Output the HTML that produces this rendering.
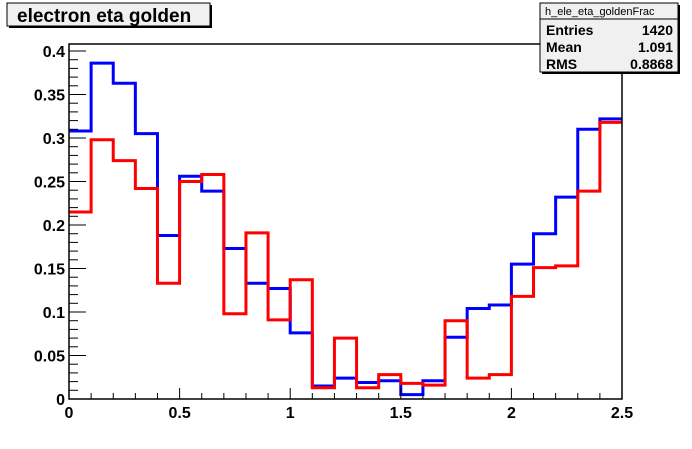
<!DOCTYPE html>
<html><head><meta charset="utf-8"><style>
body{margin:0;background:#fff;}
svg text{font-family:"Liberation Sans",Arial,sans-serif;font-weight:bold;}
</style></head><body>
<svg id="c" width="692" height="444" xmlns="http://www.w3.org/2000/svg">
<rect x="0" y="0" width="692" height="444" fill="#fff"/>
<g>
<rect x="9" y="5" width="203" height="23" fill="#000"/>
<rect x="7" y="3" width="203" height="23" fill="#f0f0f0" stroke="#000" stroke-width="1"/>
<text x="17" y="22" font-size="19" fill="#000">electron eta golden</text>
</g>
<g id="plot"></g>
<g>
<rect x="542" y="5" width="138" height="69" fill="#000"/>
<rect x="540" y="3" width="138" height="69" fill="#f0f0f0" stroke="#000" stroke-width="1"/>
<line x1="540" y1="19" x2="678" y2="19" stroke="#000"/>
<text x="545" y="15" font-size="11" font-weight="normal" style="font-weight:normal">h_ele_eta_goldenFrac</text>
<text x="546" y="35" font-size="14">Entries</text>
<text x="673" y="35" font-size="14" text-anchor="end">1420</text>
<text x="546" y="52" font-size="14">Mean</text>
<text x="673" y="52" font-size="14" text-anchor="end">1.091</text>
<text x="546" y="69" font-size="14">RMS</text>
<text x="673" y="69" font-size="14" text-anchor="end">0.8868</text>
</g>
</svg>
<script>
const binEdgesStart = 0, binWidth = 0.1;
const blueValues = [0.308,0.386,0.363,0.305,0.188,0.256,0.239,0.173,0.133,0.127,0.076,0.015,0.024,0.019,0.021,0.005,0.021,0.071,0.104,0.108,0.155,0.190,0.232,0.310,0.322];
const redValues = [0.215,0.298,0.274,0.242,0.133,0.250,0.258,0.098,0.191,0.091,0.137,0.013,0.070,0.013,0.028,0.018,0.016,0.090,0.024,0.028,0.118,0.151,0.153,0.239,0.318];
const yTickLabels = ["0","0.05","0.1","0.15","0.2","0.25","0.3","0.35","0.4"];
const xTickLabels = ["0","0.5","1","1.5","2","2.5"];

const L=69,R=622,T=44,B=399,XMAX=2.5,YMAX=(399-44)/870;
const sx=v=>L+v/XMAX*(R-L);
const sy=v=>B-v/YMAX*(B-T);
const NS="http://www.w3.org/2000/svg";
const g=document.getElementById('plot');
function mk(t,a){const e=document.createElementNS(NS,t);for(const k in a)e.setAttribute(k,a[k]);g.appendChild(e);return e;}
function hist(vals,color,name){
  let d="M"+sx(binEdgesStart)+","+sy(vals[0]);
  vals.forEach((v,i)=>{const x0=sx(binEdgesStart+i*binWidth),x1=sx(binEdgesStart+(i+1)*binWidth);
    d+=" L"+x0+","+sy(v)+" L"+x1+","+sy(v);});
  const p=mk('path',{d:d,fill:'none',stroke:color,'stroke-width':3});
  
  
}
hist(blueValues,'#0000ff','blue-histogram');
hist(redValues,'#ff0000','red-histogram');
const fr=mk('rect',{x:L,y:T,width:R-L,height:B-T,fill:'none',stroke:'#000','stroke-width':1.5});


// y ticks
for(let i=0;i<=40;i++){const v=i*0.01;if(v>YMAX)break;const y=sy(v);const len=(i%5==0)?17:9;
  mk('line',{x1:L,y1:y,x2:L+len,y2:y,stroke:'#000','stroke-width':1});}
yTickLabels.forEach(s=>{const v=parseFloat(s);const t=mk('text',{x:L-4,y:sy(v)+6,'font-size':16,'text-anchor':'end'});t.textContent=s;
  
  });
// x ticks
for(let i=0;i<=25;i++){const x=sx(i*0.1);const len=(i%5==0)?11:6;
  mk('line',{x1:x,y1:B,x2:x,y2:B-len,stroke:'#000','stroke-width':1});}
xTickLabels.forEach(s=>{const v=parseFloat(s);const t=mk('text',{x:sx(v),y:B+19,'font-size':16,'text-anchor':'middle'});t.textContent=s;
  
  });
</script>
</body></html>
